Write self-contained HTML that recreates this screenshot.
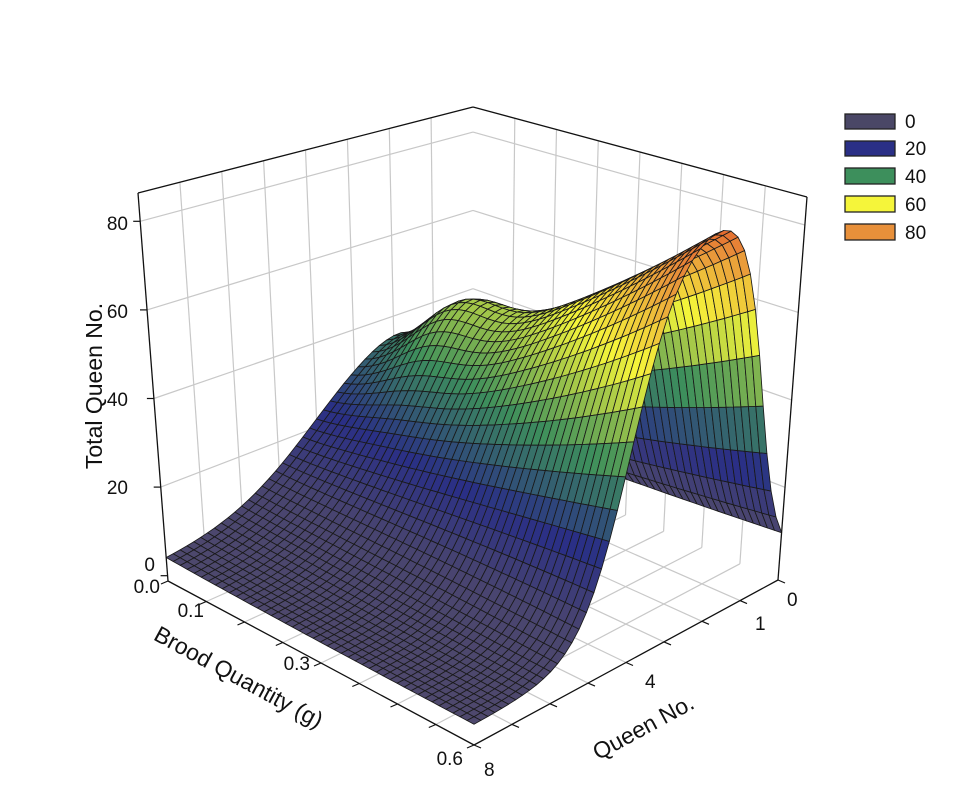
<!DOCTYPE html>
<html><head><meta charset="utf-8"><style>
body{margin:0;background:#fff;width:960px;height:800px;overflow:hidden}
svg{display:block}
text{font-family:"Liberation Sans",Arial,sans-serif;fill:#111}
</style></head><body>
<svg id="s" width="960" height="800" viewBox="0 0 960 800" xmlns="http://www.w3.org/2000/svg">
<g id="grid"></g><g id="surf"></g><g id="ax"></g>
<text x="128" y="230" font-size="19" text-anchor="end">80</text>
<text x="128" y="318" font-size="19" text-anchor="end">60</text>
<text x="128" y="406" font-size="19" text-anchor="end">40</text>
<text x="128" y="494" font-size="19" text-anchor="end">20</text>
<text x="155" y="571" font-size="19" text-anchor="end">0</text>
<text x="160" y="593" font-size="19" text-anchor="end">0.0</text>
<text x="204" y="617" font-size="19" text-anchor="end">0.1</text>
<text x="310" y="670" font-size="19" text-anchor="end">0.3</text>
<text x="463" y="765" font-size="19" text-anchor="end">0.6</text>
<text x="484" y="776" font-size="19">8</text>
<text x="645" y="688" font-size="19">4</text>
<text x="755" y="630" font-size="19">1</text>
<text x="787" y="606" font-size="19">0</text>
<text transform="translate(102,386) rotate(-90)" font-size="23" text-anchor="middle">Total Queen No.</text>
<text transform="translate(235,684) rotate(28.5)" font-size="23" text-anchor="middle">Brood Quantity (g)</text>
<text transform="translate(647,734) rotate(-28.5)" font-size="23" text-anchor="middle">Queen No.</text>
<g stroke="#222" stroke-width="1.3">
<rect x="845" y="114" width="50" height="15" fill="#4a4766"/>
<rect x="845" y="141" width="50" height="15" fill="#2a2f86"/>
<rect x="845" y="168" width="50" height="16" fill="#3d8f5c"/>
<rect x="845" y="196" width="50" height="16" fill="#f5f53a"/>
<rect x="845" y="224" width="50" height="16" fill="#e8903a"/>
</g>
<text x="905" y="128" font-size="19">0</text>
<text x="905" y="155" font-size="19">20</text>
<text x="905" y="183" font-size="19">40</text>
<text x="905" y="211" font-size="19">60</text>
<text x="905" y="239" font-size="19">80</text>
</svg>
<script>
var NS="http://www.w3.org/2000/svg";
var fB=[473,450],fL=[168,581],fF=[474,745],fR=[778,580];
var tB=[473,107],tL=[138,193],tF=[474,320],tR=[807,197];
var Z0=-1.2,Z1=86.4;
function bil(a,b,c,d,s,t){
 var x=(1-s)*(1-t)*a[0]+(1-s)*t*b[0]+s*t*c[0]+s*(1-t)*d[0];
 var y=(1-s)*(1-t)*a[1]+(1-s)*t*b[1]+s*t*c[1]+s*(1-t)*d[1];return [x,y];}
function P(s,t,z){var w=(z-Z0)/(Z1-Z0);var f=bil(fB,fL,fF,fR,s,t),g=bil(tB,tL,tF,tR,s,t);
 return [f[0]*(1-w)+g[0]*w,f[1]*(1-w)+g[1]*w];}
function el(p,tag,at){var e=document.createElementNS(NS,tag);for(var k in at)e.setAttribute(k,at[k]);p.appendChild(e);return e;}
function line(g,a,b,c,w){el(g,"line",{x1:a[0].toFixed(1),y1:a[1].toFixed(1),x2:b[0].toFixed(1),y2:b[1].toFixed(1),stroke:c,"stroke-width":w});}
var G=document.getElementById("grid"),A=document.getElementById("ax"),S=document.getElementById("surf");
var gc="#c8c8c8";
for(var i=1;i<8;i++){var t=i/8;line(G,P(0,t,Z0),P(0,t,Z1),gc,1.2);line(G,P(t,0,Z0),P(t,0,Z1),gc,1.2);
 line(G,P(0,t,Z0),P(1,t,Z0),gc,1.2);line(G,P(t,0,Z0),P(t,1,Z0),gc,1.2);}
[20,40,60,80].forEach(function(z){line(G,P(0,1,z),P(0,0,z),gc,1.2);line(G,P(0,0,z),P(1,0,z),gc,1.2);});
function sig(x){return 1/(1+Math.exp(-x));}
function f(s,t){
 var k=7+7*s;
 var q=sig((0.5-t)*k)*sig((t-0.1)*25);
 var a=0.42+0.55*Math.pow(s,1.3)+0.11*Math.exp(-((s-0.22)*(s-0.22))/0.02-((t-0.28)*(t-0.28))/0.02);
 return 3+90*a*q;}
var cs=[[0,[80,74,108]],[12,[72,68,112]],[24,[42,47,134]],[40,[61,143,92]],[60,[245,245,58]],[78,[232,144,58]],[90,[225,80,40]]];
function col(z){for(var i=0;i<cs.length-1;i++){if(z<=cs[i+1][0]){var a=cs[i],b=cs[i+1],u=Math.max(0,(z-a[0])/(b[0]-a[0]));
 return "rgb("+[0,1,2].map(function(k){return Math.round(a[1][k]+(b[1][k]-a[1][k])*u)}).join(",")+")";}}return "rgb(225,80,40)";}
var N=44,M=44,Zv=[];
for(var i=0;i<=N;i++){Zv[i]=[];for(var j=0;j<=M;j++)Zv[i][j]=f(i/N,j/M);}
var quads=[];for(var i=0;i<N;i++)for(var j=0;j<M;j++)quads.push([i,j]);
quads.sort(function(a,b){return (a[0]+a[1])-(b[0]+b[1]);});
quads.forEach(function(q){var i=q[0],j=q[1];
 var p=[P(i/N,j/M,Zv[i][j]),P((i+1)/N,j/M,Zv[i+1][j]),P((i+1)/N,(j+1)/M,Zv[i+1][j+1]),P(i/N,(j+1)/M,Zv[i][j+1])];
 var z=(Zv[i][j]+Zv[i+1][j]+Zv[i+1][j+1]+Zv[i][j+1])/4;
 el(S,"polygon",{points:p.map(function(v){return v[0].toFixed(1)+","+v[1].toFixed(1)}).join(" "),fill:col(z),stroke:"#1a1a1a","stroke-width":0.85,"stroke-linejoin":"round"});});
var k="#111";
line(A,P(0,1,Z1),P(0,0,Z1),k,1.3);line(A,P(0,0,Z1),P(1,0,Z1),k,1.3);
line(A,P(0,1,Z0),P(0,1,Z1),k,1.3);line(A,P(1,0,Z0),P(1,0,Z1),k,1.3);
line(A,P(0,1,Z0),P(1,1,Z0),k,1.3);line(A,P(1,1,Z0),P(1,0,Z0),k,1.3);
for(var i=0;i<=8;i++){var t=i/8;var a=P(t,1,Z0);line(A,a,[a[0]-7,a[1]+3],k,1.2);var b=P(1,t,Z0);line(A,b,[b[0]+7,b[1]+3],k,1.2);}
[0,20,40,60,80].forEach(function(z){var a=P(0,1,z);line(A,a,[a[0]-7,a[1]],k,1.2);});
</script>
</body></html>
